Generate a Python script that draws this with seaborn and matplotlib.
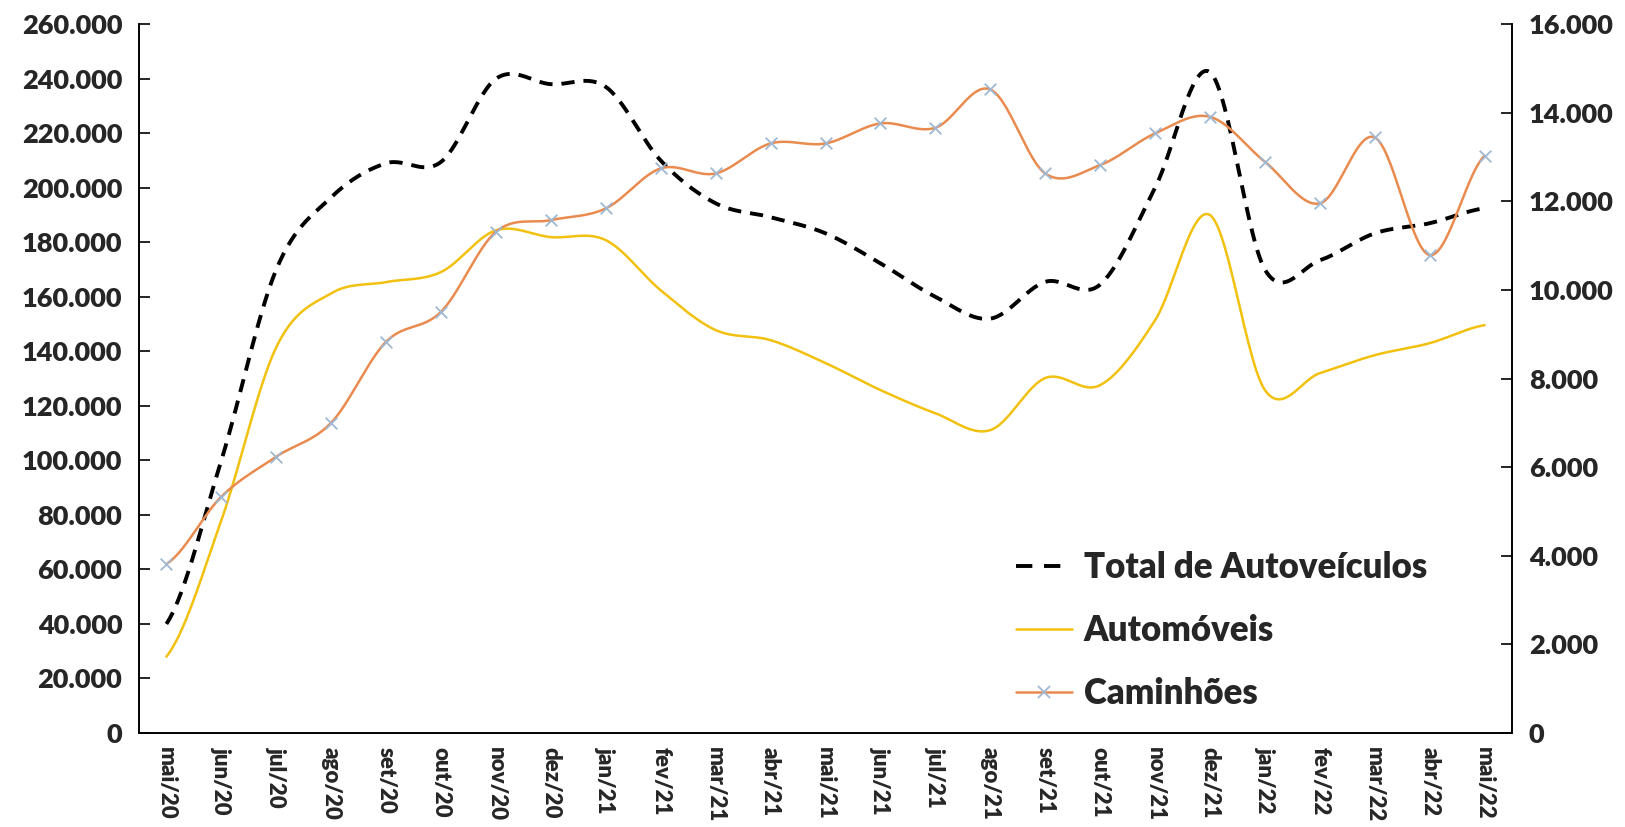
import numpy as np
import pandas as pd
import matplotlib
matplotlib.use("Agg")
import matplotlib.pyplot as plt
import seaborn as sns
from matplotlib.lines import Line2D
from matplotlib.ticker import FuncFormatter, FixedLocator

# Monthly data
months = ["mai/20", "jun/20", "jul/20", "ago/20", "set/20", "out/20", "nov/20", "dez/20",
          "jan/21", "fev/21", "mar/21", "abr/21", "mai/21", "jun/21", "jul/21", "ago/21",
          "set/21", "out/21", "nov/21", "dez/21", "jan/22", "fev/22", "mar/22", "abr/22", "mai/22"]

total = [40000, 100000, 170000, 196500, 209000, 209500, 240000, 238000,
         237000, 210000, 194300, 189200, 183300, 172300, 160000, 152000,
         165500, 164500, 200000, 242400, 170000, 173400, 183300, 187000, 192500]

automoveis = [28000, 78000, 141500, 161300, 165400, 169100, 184400, 181900,
              180800, 162400, 147800, 144100, 135700, 125800, 117300, 111100,
              130200, 127600, 151400, 190000, 125800, 132000, 138600, 143000, 149600]

caminhoes = [3814, 5334, 6237, 7004, 8832, 9509, 11315, 11579,
             11842, 12745, 12632, 13309, 13309, 13761, 13662, 14528,
             12632, 12820, 13535, 13910, 12895, 11955, 13444, 10789, 13030]

c_total = "black"
c_auto = "#F2C10F"
c_cam = "#E98B4F"
c_marker = "#9FB7D1"


# Excel-like smoothed line (uniform Catmull-Rom through the points)
def smooth(values, n=30):
    p = np.asarray(values, dtype=float)
    p = np.concatenate([[p[0]], p, [p[-1]]])
    xs, ys = [], []
    for i in range(1, len(p) - 2):
        t = np.linspace(0, 1, n, endpoint=False)
        p0, p1, p2, p3 = p[i - 1], p[i], p[i + 1], p[i + 2]
        y = 0.5 * ((2 * p1) + (-p0 + p2) * t + (2 * p0 - 5 * p1 + 4 * p2 - p3) * t ** 2
                   + (-p0 + 3 * p1 - 3 * p2 + p3) * t ** 3)
        xs.extend(i - 1 + t)
        ys.extend(y)
    xs.append(len(values) - 1)
    ys.append(values[-1])
    return pd.DataFrame({"x": xs, "y": ys})


sns.set_style("white")
plt.rcParams["font.family"] = ["Lato", "DejaVu Sans"]
plt.rcParams["font.weight"] = "heavy"

fig = plt.figure(figsize=(16.25, 8.27), dpi=100)
ax = fig.add_axes([0.0855, 0.1137, 0.845, 0.857])
ax2 = ax.twinx()

idx = np.arange(len(months))

d_total = smooth(total)
d_auto = smooth(automoveis)
d_cam = smooth(caminhoes)

sns.lineplot(data=d_auto, x="x", y="y", ax=ax, color=c_auto, linewidth=1.8,
             sort=False, estimator=None)
sns.lineplot(data=d_total, x="x", y="y", ax=ax, color=c_total, linewidth=2.8,
             sort=False, estimator=None, dashes=False, linestyle=(0, (3.4, 2.3)))
sns.lineplot(data=d_cam, x="x", y="y", ax=ax2, color=c_cam, linewidth=1.8,
             sort=False, estimator=None)
sns.scatterplot(x=idx, y=caminhoes, ax=ax2, marker="x", color=c_marker, s=70,
                linewidth=1.3, zorder=5)

ax.set_xlim(-0.5, len(months) - 0.5)
ax.set_ylim(0, 260000)
ax2.set_ylim(0, 16000)

ax.set_yticks(np.arange(0, 260001, 20000))
ax2.set_yticks(np.arange(0, 16001, 2000))
fmt = FuncFormatter(lambda v, p: f"{int(v):,}".replace(",", "."))
ax.yaxis.set_major_formatter(fmt)
ax2.yaxis.set_major_formatter(fmt)

ax.set_xticks(idx)
ax.set_xticklabels(months, rotation=-90, fontsize=16, fontweight="heavy")
ax.xaxis.set_minor_locator(FixedLocator(np.arange(-0.5, len(months), 1.0)))
ax.tick_params(axis="x", which="major", length=0, pad=10)
ax.tick_params(axis="x", which="minor", length=12, direction="inout", width=1.2, color="black")
ax.tick_params(axis="y", length=8, direction="in", width=1.2, color="black",
               labelsize=19.5, pad=12)
ax2.tick_params(axis="y", length=8, direction="in", width=1.2, color="black",
                labelsize=19.5, pad=12)
for lab in ax.get_yticklabels() + ax2.get_yticklabels():
    lab.set_fontweight("heavy")

ax.set_xlabel("")
ax.set_ylabel("")
ax2.set_ylabel("")

for a in (ax, ax2):
    a.spines["top"].set_visible(False)
    for s in ("left", "right", "bottom"):
        a.spines[s].set_color("black")
        a.spines[s].set_linewidth(1.2)
ax.grid(False)
ax2.grid(False)

handles = [
    Line2D([], [], color=c_total, linewidth=2.8, linestyle=(0, (4.2, 3.0))),
    Line2D([], [], color=c_auto, linewidth=1.8),
    Line2D([], [], color=c_cam, linewidth=1.8, marker="x", markersize=9,
           markeredgecolor=c_marker, markeredgewidth=1.3, markevery=[1]),
]
for h in handles[2:]:
    h.set_data([0, 0.5, 1], [0, 0, 0])
ax2.legend(handles, ["Total de Autoveículos", "Automóveis", "Caminhões"],
           loc="lower left", bbox_to_anchor=(0.616, -0.012), frameon=False,
           prop={"size": 25, "weight": "heavy"}, handlelength=1.6,
           labelspacing=0.87, handletextpad=0.35)

plt.savefig("out.png", dpi=100)
